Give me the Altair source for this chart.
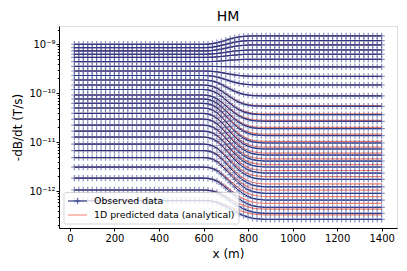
import altair as alt
import pandas as pd

# positions along the profile (m)
x_pos = list(range(20, 1401, 20))

# observed -dB/dt levels (T/s) per time gate: left part (x<600) and right part (x>880)
left_vals = [1.00e-9, 8.51e-10, 7.29e-10, 6.25e-10, 5.37e-10, 4.41e-10, 3.52e-10, 2.84e-10,
             2.30e-10, 1.86e-10, 1.47e-10, 1.19e-10, 9.18e-11, 7.60e-11, 6.21e-11, 4.98e-11,
             3.85e-11, 2.96e-11, 2.23e-11, 1.68e-11, 1.27e-11, 9.12e-12, 6.73e-12, 4.84e-12,
             3.09e-12, 1.84e-12, 1.05e-12, 6.40e-13]
right_vals = [1.48e-9, 1.19e-9, 9.68e-10, 7.64e-10, 6.25e-10, 4.93e-10, 3.44e-10, 2.20e-10,
              1.47e-10, 8.77e-11, 5.40e-11, 3.63e-11, 2.66e-11, 1.88e-11, 1.36e-11, 9.59e-12,
              7.23e-12, 5.44e-12, 4.10e-12, 3.10e-12, 2.33e-12, 1.73e-12, 1.22e-12, 8.97e-13,
              6.55e-13, 4.65e-13, 3.50e-13, 2.64e-13]
# predicted / observed ratio on the right side, per gate
pred_ratio_right = [1.0, 1.0, 1.0, 1.0, 1.0, 1.0, 1.0, 1.0, 1.0, 1.02, 1.03, 1.04, 1.05, 1.06,
                    1.07, 1.08, 1.09, 1.10, 1.11, 1.12, 1.13, 1.14, 1.15, 1.16, 1.18, 1.20,
                    1.22, 1.24]

# transition shape across the boundary (fraction of change), x = 600..900 step 20
trans_x = [600, 620, 640, 660, 680, 700, 720, 740, 760, 780, 800, 820, 840, 860, 880, 900]
trans_early = [0, 0.02, 0.08, 0.18, 0.32, 0.48, 0.64, 0.78, 0.88, 0.95, 0.98, 1, 1, 1, 1, 1]
trans_late = [0, 0.01, 0.04, 0.10, 0.20, 0.32, 0.45, 0.58, 0.70, 0.80, 0.88, 0.94, 0.97, 0.99, 1, 1]

rows = []
n = len(left_vals)
for i in range(n):
    w = i / (n - 1)
    for xv in x_pos:
        if xv < trans_x[0]:
            f = 0.0
        elif xv > trans_x[-1]:
            f = 1.0
        else:
            k = trans_x.index(xv)
            f = (1 - w) * trans_early[k] + w * trans_late[k]
        lo, hi = left_vals[i], right_vals[i]
        obs = lo * (hi / lo) ** f
        pred = obs * pred_ratio_right[i] ** f
        rows.append({"x": xv, "y": obs, "gate": i, "kind": "obs"})
        rows.append({"x": xv, "y": pred, "gate": i, "kind": "pred"})
df = pd.DataFrame(rows)

FONT = "DejaVu Sans"
NAVY = "#14206e"
MARK = "#2a3a8e"
RED = "#f2553a"

ticks = []
for d in [1e-13, 1e-12, 1e-11, 1e-10, 1e-9]:
    for m in range(1, 10):
        v = m * d
        if 1.758e-13 <= v <= 2.36e-9:
            ticks.append(v)

lg = "round(log(datum.value)/LN10)"
label_expr = (
    f"abs(log(datum.value)/LN10 - {lg}) > 0.01 ? '' : "
    f"({lg} == -9 ? '10⁻⁹' : {lg} == -10 ? '10⁻¹⁰' : {lg} == -11 ? '10⁻¹¹' : {lg} == -12 ? '10⁻¹²' : '')"
)

xenc = alt.X("x:Q", scale=alt.Scale(domain=[-49, 1469], nice=False, zero=False),
             axis=alt.Axis(values=list(range(0, 1401, 200)), format="d", title="x (m)", grid=False,
                           tickSize=3, labelPadding=2, titlePadding=5, labelFontSize=10,
                           titleFontSize=12, titleFontWeight="normal", labelFont=FONT,
                           titleFont=FONT, tickColor="black", domainColor="black",
                           labelColor="black", titleColor="black"))
yenc = alt.Y("y:Q", scale=alt.Scale(type="log", domain=[1.758e-13, 2.36e-9], nice=False),
             axis=alt.Axis(values=ticks, labelExpr=label_expr, title="-dB/dt (T/s)", grid=False,
                           tickSize={"condition": {"test": f"abs(log(datum.value)/LN10 - {lg}) < 0.01", "value": 3}, "value": 1.7},
                           labelPadding=1, titlePadding=4, labelFontSize=10, labelOverlap=False,
                           titleFontSize=12, titleFontWeight="normal", labelFont=FONT,
                           titleFont=FONT, tickColor="black", domainColor="black",
                           labelColor="black", titleColor="black"))

base = alt.Chart(df)
obs_line = base.transform_filter("datum.kind == 'obs'").mark_line(
    color=NAVY, strokeWidth=1).encode(x=xenc, y=yenc, detail="gate:N", order="x:Q")
obs_pts = base.transform_filter("datum.kind == 'obs'").mark_point(
    shape="M-1,0L1,0M0,-1L0,1", filled=False, size=40, color=MARK, opacity=0.55,
    strokeWidth=1.2).encode(x="x:Q", y="y:Q")
pred_line = base.transform_filter("datum.kind == 'pred'").mark_line(
    color=RED, strokeWidth=1.2, opacity=0.75).encode(x="x:Q", y="y:Q", detail="gate:N", order="x:Q")

one = pd.DataFrame({"k": [0]})
leg_box = alt.Chart(one).mark_rect(fill="white", opacity=0.8, stroke="#cccccc",
                                   strokeWidth=1, cornerRadius=2).encode(
    x=alt.value(5), x2=alt.value(180), y=alt.value(166.5), y2=alt.value(198))
leg_obs = alt.Chart(one).mark_rule(color=NAVY, strokeWidth=1).encode(
    x=alt.value(9), x2=alt.value(28), y=alt.value(175))
leg_obs_pt = alt.Chart(one).mark_point(shape="M-1,0L1,0M0,-1L0,1", filled=False, size=40,
                                       color=MARK, opacity=0.7, strokeWidth=1.2).encode(
    x=alt.value(18.5), y=alt.value(175))
leg_pred = alt.Chart(one).mark_rule(color=RED, strokeWidth=1.5, opacity=0.5).encode(
    x=alt.value(9), x2=alt.value(28), y=alt.value(189))
leg_t1 = alt.Chart(one).mark_text(text="Observed data", align="left", baseline="middle",
                                  font=FONT, fontSize=9.4, color="black").encode(
    x=alt.value(35), y=alt.value(175))
leg_t2 = alt.Chart(one).mark_text(text="1D predicted data (analytical)", align="left",
                                  baseline="middle", font=FONT, fontSize=9.4,
                                  color="black").encode(x=alt.value(35), y=alt.value(189))

chart = alt.layer(pred_line, obs_line, obs_pts, leg_box, leg_obs, leg_obs_pt, leg_pred,
                  leg_t1, leg_t2).properties(
    width=338, height=202,
    title=alt.TitleParams("HM", fontSize=14, fontWeight="normal", font=FONT, color="black",
                          offset=1),
    autosize=alt.AutoSizeParams(type="none"),
    padding={"left": 51, "top": 18, "right": 2, "bottom": 35},
).configure_view(stroke="black", strokeWidth=1).configure(background="white")

chart.save("out.html", embed_options={"renderer": "svg", "actions": False})
